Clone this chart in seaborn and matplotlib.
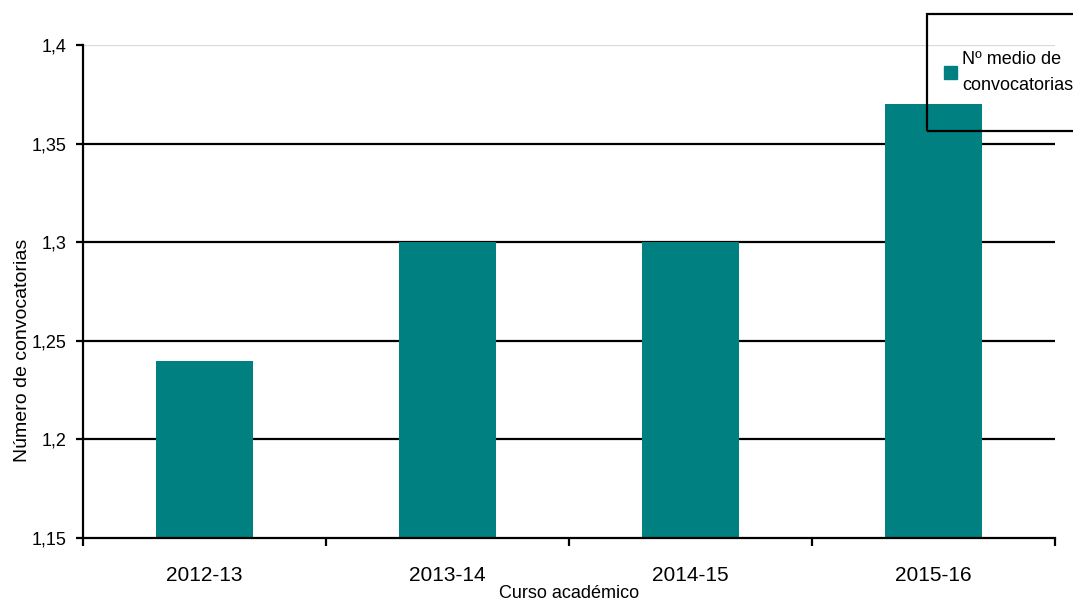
import numpy as np
import matplotlib
matplotlib.use("Agg")
import matplotlib.pyplot as plt
import matplotlib.patches as mpatches
from matplotlib.ticker import FixedLocator, FuncFormatter
import pandas as pd
import seaborn as sns

cursos = ["2012-13", "2013-14", "2014-15", "2015-16"]
convocatorias = [1.24, 1.30, 1.30, 1.37]
y_ticks = [1.15, 1.2, 1.25, 1.3, 1.35, 1.4]
serie = "Nº medio de\nconvocatorias"

sns.set_theme(style="white")
plt.rcParams["font.family"] = ["Liberation Sans", "DejaVu Sans"]

df = pd.DataFrame({"curso": cursos, "valor": convocatorias})

fig = plt.figure(figsize=(10.73, 6.04), dpi=100)
ax = fig.add_axes([83 / 1073, 1 - 538 / 604, (1055 - 83) / 1073, (538 - 45) / 604])

teal = "#008080"
sns.barplot(data=df, x="curso", y="valor", color=teal, width=0.4, saturation=1,
            linewidth=0, ax=ax, zorder=3)

ax.set_ylim(1.15, 1.4)
ax.set_xlim(-0.5, len(cursos) - 0.5)
ax.set_yticks(y_ticks)
ax.yaxis.set_major_formatter(FuncFormatter(lambda v, p: ("%g" % round(v, 2)).replace(".", ",")))

# gridlines
for v in y_ticks[1:-1]:
    ax.axhline(v, color="black", lw=1.6, zorder=2)
ax.axhline(y_ticks[-1], color="#d9d9d9", lw=1.6, zorder=2)

for s in ["top", "right"]:
    ax.spines[s].set_visible(False)
for s in ["left", "bottom"]:
    ax.spines[s].set_color("black")
    ax.spines[s].set_linewidth(1.6)
    ax.spines[s].set_zorder(4)

ax.tick_params(axis="y", which="major", direction="out", length=5, width=1.6,
               color="black", labelsize=13, labelcolor="black", pad=7, left=True)
ax.tick_params(axis="x", which="major", length=0, labelsize=15, labelcolor="black", pad=20)
ax.xaxis.set_minor_locator(FixedLocator(np.arange(-0.5, len(cursos), 1.0)))
ax.tick_params(axis="x", which="minor", direction="out", length=6, width=1.6,
               color="black", bottom=True)

ax.set_xlabel("Curso académico", fontsize=13, color="black")
ax.xaxis.set_label_coords(0.5, -0.095)
ax.set_ylabel("Número de convocatorias", fontsize=14, color="black")
ax.yaxis.set_label_coords(-0.053, 0.38)

# legend box
fig.patches.append(mpatches.Rectangle((927 / 1073, 1 - 131 / 604), 160 / 1073, 117 / 604,
                                      transform=fig.transFigure, fill=False,
                                      edgecolor="black", lw=1.6, zorder=5))
handle = mpatches.Patch(color=teal, label=serie)
leg = fig.legend(handles=[handle], loc="upper left", bbox_to_anchor=(935 / 1073, 1 - 42 / 604),
                 frameon=False, fontsize=13, handlelength=0.7, handleheight=0.7,
                 handletextpad=0.3, borderpad=0, labelspacing=0)
for t in leg.get_texts():
    t.set_linespacing(1.7)
    t.set_color("black")

fig.savefig("out.png", dpi=100)
